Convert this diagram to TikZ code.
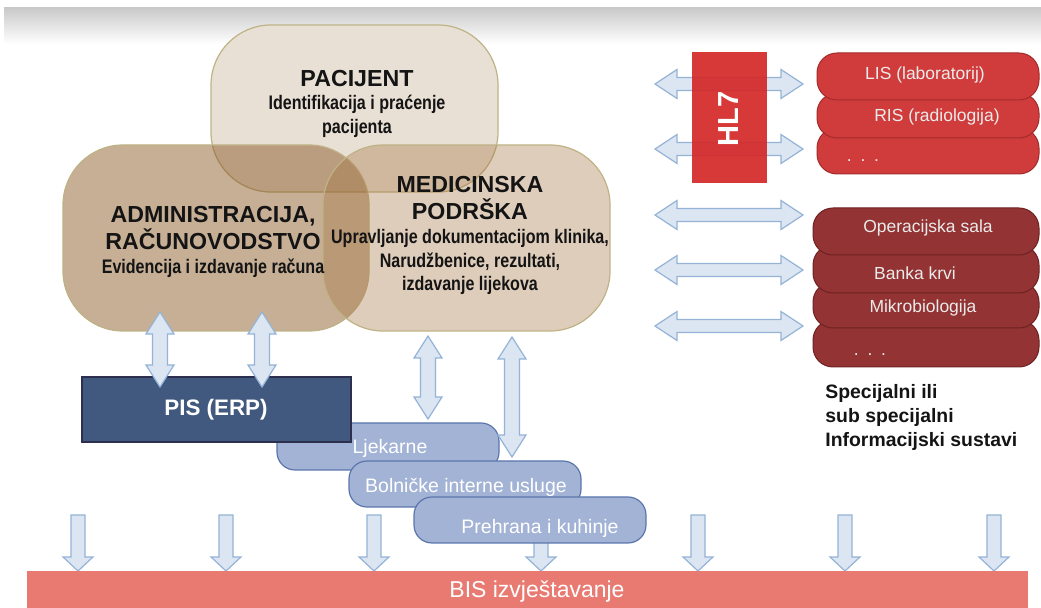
\documentclass[tikz,border=0pt]{standalone}
\usepackage{fontspec}
\setmainfont{Liberation Sans}
\newfontfamily\narrow[FakeStretch=0.82]{Liberation Sans}
\usetikzlibrary{fit}
\definecolor{pacfill}{HTML}{E8DFD5}
\definecolor{vennline}{HTML}{BFB386}
\definecolor{admcol}{RGB}{131,81,25}
\definecolor{medcol}{RGB}{164,112,61}
\definecolor{arrfill}{HTML}{DCE6F2}
\definecolor{arrline}{HTML}{95B3D7}
\definecolor{bbfill}{HTML}{A3B3D5}
\definecolor{bbline}{HTML}{5A76AD}
\definecolor{pisfill}{HTML}{41587F}
\definecolor{pisline}{HTML}{2D2F4F}
\definecolor{hlred}{HTML}{D42828}
\definecolor{lisred}{HTML}{D03C3C}
\definecolor{lisline}{HTML}{A32A2A}
\definecolor{dkred}{HTML}{933333}
\definecolor{dkline}{HTML}{6E2222}
\definecolor{bisfill}{HTML}{E97A71}
\definecolor{txt}{HTML}{141414}
\newcommand\hdarr[3]{% y, x1, x2
  \draw[blockarr] (#2,#1) -- (#2+22,#1-14.5) -- (#2+22,#1-6.5) -- (#3-22,#1-6.5) -- (#3-22,#1-14.5) -- (#3,#1)
   -- (#3-22,#1+14.5) -- (#3-22,#1+6.5) -- (#2+22,#1+6.5) -- (#2+22,#1+14.5) -- cycle;}
\newcommand\vdarr[3]{% x, y1, y2
  \draw[blockarr] (#1,#2) -- (#1+14,#2+22) -- (#1+7.5,#2+22) -- (#1+7.5,#3-22) -- (#1+14,#3-22) -- (#1,#3)
   -- (#1-14,#3-22) -- (#1-7.5,#3-22) -- (#1-7.5,#2+22) -- (#1-14,#2+22) -- cycle;}
\newcommand\downarr[1]{% x
  \draw[blockarr] (#1-7,515) -- (#1+7,515) -- (#1+7,557) -- (#1+15,557) -- (#1,571) -- (#1-15,557) -- (#1-7,557) -- cycle;}
\begin{document}
\begin{tikzpicture}[x=0.5pt,y=-0.5pt,
  venn/.style={inner sep=0pt, rounded corners=30pt, draw=vennline, line width=0.6pt},
  ttl/.style={font=\bfseries\fontsize{11.6}{13.5}\selectfont, text=txt, align=center, inner sep=0pt},
  sub/.style={font=\narrow\bfseries\fontsize{9.8}{11.7}\selectfont, text=txt, align=center, inner sep=0pt},
  blockarr/.style={fill=arrfill, draw=arrline, line width=0.6pt, line join=miter},
  bbox/.style={inner sep=0pt, rounded corners=9pt, fill=bbfill, draw=bbline, line width=0.6pt},
  bbtxt/.style={font=\fontsize{9.75}{11}\selectfont, text=white, inner sep=0pt},
  lisbox/.style={inner sep=0pt, rounded corners=10pt, fill=lisred, draw=lisline, line width=0.5pt},
  dkbox/.style={inner sep=0pt, rounded corners=10pt, fill=dkred, draw=dkline, line width=0.5pt},
  stxt/.style={font=\fontsize{8.75}{10}\selectfont, text=white!92!black, inner sep=0pt}]
\useasboundingbox (0,0) rectangle (1041,608);
\fill[white] (0,0) rectangle (1041,608);
\shade[top color=black!21, bottom color=white] (4,8) rectangle (1041,44);

% Venn shapes
\node[venn, fill=pacfill, fit={(211,25) (498,192)}] (pac) {};
\node[venn, fill=admcol, fill opacity=0.46, fit={(63,145) (369,331)}] (adm) {};
\node[venn, fill=medcol, fill opacity=0.35, fit={(323,145) (610,331)}] (med) {};

\node[ttl] (pacT) at (357,79) {PACIJENT};
\node[sub] (pacS) at (357,116.5) {Identifikacija i praćenje\\pacijenta};
\node[ttl] (admT) at (213,228.5) {ADMINISTRACIJA,\\RAČUNOVODSTVO};
\node[sub] (admS) at (213,268) {Evidencija i izdavanje računa};
\node[ttl] (medT) at (470,198.5) {MEDICINSKA\\PODRŠKA};
\node[sub] (medS) at (470,262) {Upravljanje dokumentacijom klinika,\\Narudžbenice, rezultati,\\izdavanje lijekova};

% down arrows to BIS
\foreach \xx in {78,226,374,541,698,845,994} {\downarr{\xx}}

% blue service boxes
\node[bbox, fit={(277,423) (499,470)}] (ljek) {};
\node[bbtxt] (ljekT) at (390,448) {Ljekarne};
\vdarr{428}{336}{419}
\vdarr{512}{337}{457}
\node[bbox, fit={(349,461) (581,507)}] (bol) {};
\node[bbtxt] (bolT) at (466,487) {Bolničke interne usluge};
\node[bbox, fit={(414,497) (646,543)}] (preh) {};
\node[bbtxt] (prehT) at (540,528) {Prehrana i kuhinje};

% PIS
\node[inner sep=0pt, fill=pisfill, draw=pisline, line width=0.6pt, fit={(82,377) (351,442)}] (pis) {};
\node[font=\bfseries\fontsize{11.2}{13}\selectfont, text=white, inner sep=0pt] (pisT) at (216,410) {PIS (ERP)};
\vdarr{160}{312}{387}
\vdarr{262}{312}{387}

% horizontal arrows and HL7
\hdarr{84}{655}{803}
\hdarr{149}{655}{803}
\hdarr{215}{655}{803}
\hdarr{270}{655}{803}
\hdarr{326}{655}{803}
\node[inner sep=0pt, fill=hlred, fill opacity=0.92, fit={(692,52) (767,183)}] (hl7) {};
\node[rotate=90, font=\bfseries\fontsize{14.5}{16}\selectfont, text=white, inner sep=0pt] (hl7T) at (729,119) {HL7};

% LIS stack
\node[lisbox, fit={(817,128) (1039,174)}] (lis3) {};
\node[lisbox, fit={(817,93) (1039,138)}] (lis2) {};
\node[lisbox, fit={(817,53) (1039,100)}] (lis1) {};
\node[stxt] (lis1T) at (925,75) {LIS (laboratorij)};
\node[stxt] (lis2T) at (937,117) {RIS (radiologija)};
\node[stxt] (lis3T) at (863,161) {.\,\,\,.\,\,\,.};

% dark stack
\node[dkbox, fit={(813,320) (1039,367)}] (dk4) {};
\node[dkbox, fit={(813,282) (1039,328)}] (dk3) {};
\node[dkbox, fit={(813,245) (1039,293)}] (dk2) {};
\node[dkbox, fit={(813,208) (1039,255)}] (dk1) {};
\node[stxt] (dk1T) at (928,228) {Operacijska sala};
\node[stxt] (dk2T) at (915,273) {Banka krvi};
\node[stxt] (dk3T) at (923,308) {Mikrobiologija};
\node[stxt] (dk4T) at (870,355) {.\,\,\,.\,\,\,.};

\node[anchor=west, align=left, font=\bfseries\fontsize{9.7}{12}\selectfont, text=txt, inner sep=0pt] (spec) at (825,417)
  {Specijalni ili\\sub specijalni\\Informacijski sustavi};

% BIS bar
\node[inner sep=0pt, fill=bisfill, fit={(27,571) (1028,612)}] (bis) {};
\node[font=\fontsize{11.5}{13}\selectfont, text=white, inner sep=0pt] (bisT) at (537,592) {BIS izvještavanje};
\end{tikzpicture}
\end{document}
